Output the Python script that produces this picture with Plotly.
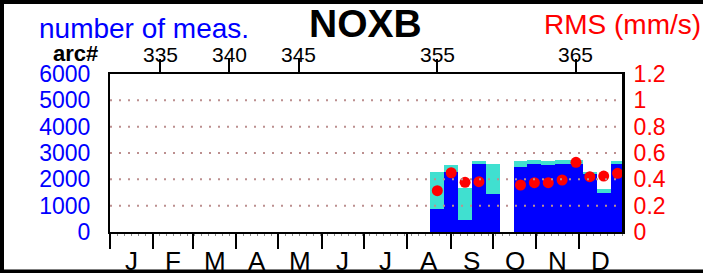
import plotly.graph_objects as go

# ---------------- data ----------------
arcs = [355, 356, 357, 358, 359, 361, 362, 363, 364, 365, 366, 367, 368]
total_meas = [2290, 2545, 1683, 2697, 2570, 2707, 2720, 2700, 2720, 2735, 2290, 1620, 2710]
used_meas = [862, 2267, 456, 2570, 1456, 2480, 2570, 2545, 2570, 2582, 2190, 1480, 2582]

rms_arcs = [355, 356, 357, 358, 361, 362, 363, 364, 365, 366, 367, 368]
rms_vals = [0.314, 0.45, 0.377, 0.382, 0.357, 0.375, 0.375, 0.395, 0.529, 0.42, 0.425, 0.446]

arc_ticks = [335, 340, 345, 355, 365]
month_starts = [0, 31, 59, 90, 120, 151, 181, 212, 243, 273, 304, 334]
month_labels = ["J", "F", "M", "A", "M", "J", "J", "A", "S", "O", "N", "D"]
meas_ticks = [0, 1000, 2000, 3000, 4000, 5000, 6000]
rms_ticks = [0, 0.2, 0.4, 0.6, 0.8, 1.0, 1.2]
rms_tick_text = ["0", "0.2", "0.4", "0.6", "0.8", "1", "1.2"]

# ---------------- layout helpers ----------------
W, H = 703, 273
L, R, T, B = 110, 622, 74, 232
FONT = "Liberation Sans, Arial, sans-serif"


def px(x):
    return (x - L) / (R - L)


def py(y):
    return (B - y) / (B - T)


month_mid = [(month_starts[i] + (month_starts[i + 1] if i + 1 < len(month_starts) else 365)) / 2
             for i in range(len(month_starts))]

fig = go.Figure()

fig.add_trace(go.Bar(x=arcs, y=total_meas, xaxis="x2", yaxis="y", width=1,
                     marker=dict(color="#40e0d0", line=dict(width=0)), showlegend=False))
fig.add_trace(go.Bar(x=arcs, y=used_meas, xaxis="x2", yaxis="y", width=1,
                     marker=dict(color="#0000ff", line=dict(width=0)), showlegend=False))
fig.add_trace(go.Scatter(x=rms_arcs, y=rms_vals, xaxis="x2", yaxis="y2", mode="markers",
                         marker=dict(color="#ff0000", size=11, line=dict(width=0)),
                         showlegend=False))

shapes = []
for v in meas_ticks[1:-1]:
    shapes.append(dict(type="line", xref="paper", yref="y", x0=0, x1=1, y0=v, y1=v,
                       line=dict(color="#bc8f8f", width=2, dash="2px,7px"), layer="above"))
# outer frame
shapes.append(dict(type="rect", xref="paper", yref="paper", x0=px(0), x1=px(4), y0=py(0), y1=py(H),
                   fillcolor="black", line=dict(width=0)))
shapes.append(dict(type="rect", xref="paper", yref="paper", x0=px(0), x1=px(W), y0=py(0), y1=py(4),
                   fillcolor="black", line=dict(width=0)))
shapes.append(dict(type="rect", xref="paper", yref="paper", x0=px(0), x1=px(W), y0=py(269.5), y1=py(H),
                   fillcolor="black", line=dict(width=0)))

annotations = [
    dict(text="<b>NOXB</b>", x=px(365), y=py(23.5), xref="paper", yref="paper",
         xanchor="center", yanchor="middle", showarrow=False,
         font=dict(family=FONT, size=39, color="black")),
    dict(text="number of meas.", x=px(144), y=py(28.5), xref="paper", yref="paper",
         xanchor="center", yanchor="middle", showarrow=False,
         font=dict(family=FONT, size=28, color="#0000ff")),
    dict(text="RMS (mm/s)", x=px(622), y=py(24.5), xref="paper", yref="paper",
         xanchor="center", yanchor="middle", showarrow=False,
         font=dict(family=FONT, size=28, color="#ff0000")),
    dict(text="<b>arc#</b>", x=px(75.5), y=py(53.5), xref="paper", yref="paper",
         xanchor="center", yanchor="middle", showarrow=False,
         font=dict(family=FONT, size=22, color="black")),
]
for a in arc_ticks:
    annotations.append(dict(text=str(a), x=a, xref="x2", y=py(54.5), yref="paper",
                            xanchor="center", yanchor="middle", showarrow=False,
                            font=dict(family=FONT, size=21, color="black")))
for m, lab in zip(month_mid, month_labels):
    annotations.append(dict(text=lab, x=m, xref="x", y=py(261), yref="paper",
                            xanchor="center", yanchor="middle", showarrow=False,
                            font=dict(family=FONT, size=26, color="black")))

fig.update_layout(
    width=W, height=H, autosize=False,
    margin=dict(l=L, r=W - R, t=T, b=H - B, pad=0),
    paper_bgcolor="white", plot_bgcolor="white",
    barmode="overlay", bargap=0,
    font=dict(family=FONT),
    shapes=shapes, annotations=annotations,
    xaxis=dict(range=[0, 365], tickvals=month_starts, ticktext=[""] * len(month_starts),
               ticks="outside", ticklen=15, tickwidth=2, tickcolor="black",
               showline=True, linewidth=2, linecolor="black", showgrid=False, zeroline=False,
               minor=dict(dtick=5, tick0=0, ticks="outside", ticklen=2, tickwidth=1,
                          tickcolor="#888888", showgrid=False)),
    xaxis2=dict(range=[331.39, 368.32], overlaying="x", side="top", anchor="y",
                tickvals=arc_ticks, ticktext=[""] * len(arc_ticks),
                ticks="outside", ticklen=13, tickwidth=2, tickcolor="black",
                showline=True, linewidth=2, linecolor="black", showgrid=False, zeroline=False),
    yaxis=dict(range=[0, 6000], tickvals=meas_ticks, ticks="", showline=True, linewidth=2,
               linecolor="black", showgrid=False, zeroline=False, ticklabelstandoff=13,
               tickfont=dict(family=FONT, size=23, color="#0000ff")),
    yaxis2=dict(range=[0, 1.2], tickvals=rms_ticks, ticktext=rms_tick_text,
                overlaying="y", side="right", anchor="x", ticks="", showline=True, linewidth=3,
                linecolor="black", showgrid=False, zeroline=False, ticklabelstandoff=4,
                tickfont=dict(family=FONT, size=23, color="#ff0000")),
)

html = fig.to_html(include_plotlyjs=True, full_html=True, config={"displayModeBar": False})
html = html.replace("<body>", '<body style="margin:0;padding:0;">', 1)
with open("out.html", "w", encoding="utf-8") as f:
    f.write(html)
